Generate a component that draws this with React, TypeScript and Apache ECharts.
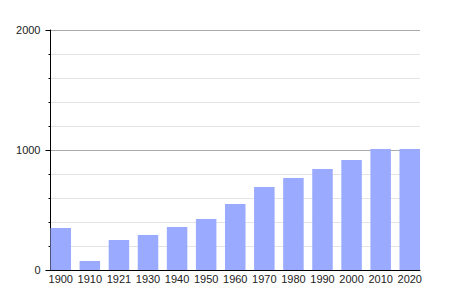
import React, { useEffect, useRef } from "react";
import * as echarts from "echarts";

const years = ["1900", "1910", "1921", "1930", "1940", "1950", "1960", "1970", "1980", "1990", "2000", "2010", "2020"];
const population = [350, 75, 250, 292, 358, 425, 550, 692, 767, 842, 917, 1008, 1008];
const yTickLabels = [0, 1000, 2000];

export default function App() {
  const ref = useRef<HTMLDivElement>(null);
  useEffect(() => {
    if (!ref.current) return;
    const chart = echarts.init(ref.current, null, { renderer: "svg" });
    const pitch = 29.07;
    const barW = 20.5;
    const half = barW / 2 / pitch;
    const font = "'Liberation Sans', Arial, sans-serif";
    chart.setOption({
      animation: false,
      backgroundColor: "#fff",
      grid: { left: 50.5, right: 30, top: 30, bottom: 30, containLabel: false },
      xAxis: {
        type: "value",
        min: -half,
        max: years.length - 1 + half,
        axisLine: { show: true, onZero: false, lineStyle: { color: "#000", width: 1 } },
        axisTick: { show: false },
        splitLine: { show: false },
        axisLabel: {
          customValues: years.map((_, i) => i),
          formatter: (v: number) => years[Math.round(v)] ?? "",
          color: "#222",
          fontSize: 11,
          fontFamily: font,
          margin: 3,
          showMinLabel: true,
          showMaxLabel: true,
        },
      },
      yAxis: {
        type: "value",
        min: 0,
        max: 2000,
        interval: 1000,
        axisLine: { show: true, onZero: false, lineStyle: { color: "#000", width: 1 } },
        axisTick: { show: true, length: 5, lineStyle: { color: "#000" } },
        minorTick: { show: true, splitNumber: 5, length: 2, lineStyle: { color: "#000" } },
        splitLine: { show: true, lineStyle: { color: "#aaa", width: 1 } },
        minorSplitLine: { show: true, lineStyle: { color: "#e4e4e4", width: 1 } },
        axisLabel: {
          formatter: (v: number) => (yTickLabels.includes(v) ? String(v) : ""),
          color: "#222",
          fontSize: 11,
          fontFamily: font,
          margin: 10,
        },
      },
      series: [
        {
          type: "bar",
          data: population.map((v, i) => [i, v]),
          barWidth: barW,
          itemStyle: { color: "#99aaff" },
          z: 1,
        },
      ],
    });
    return () => chart.dispose();
  }, []);
  return <div ref={ref} style={{ width: 450, height: 300, margin: -8 }} />;
}
